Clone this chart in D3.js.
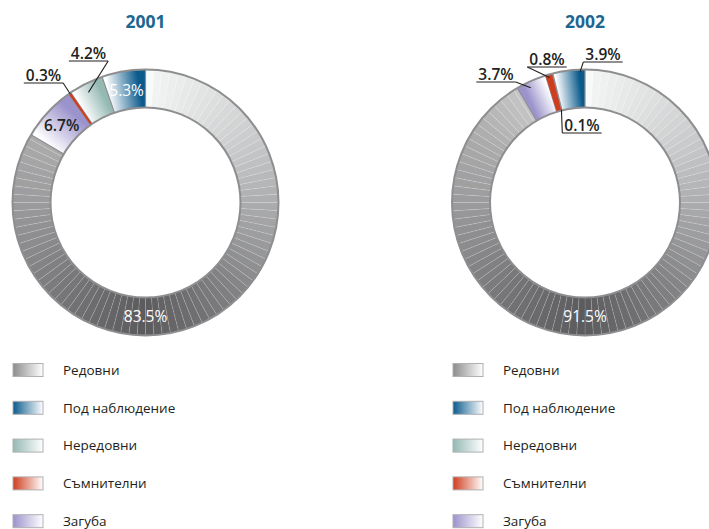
<!DOCTYPE html>
<html>
<head>
<meta charset="utf-8">
<script src="https://cdn.jsdelivr.net/npm/d3@7"></script>
<style>
  body { margin: 0; background: #fff; }
  svg { display: block; font-family: "Open Sans", "Noto Sans", sans-serif; }
  .year { font-size: 17.5px; font-weight: 700; fill: #1d6690; }
  .pct { font-size: 15.5px; font-weight: 600; fill: #231f20; }
  .pct.light { fill: #fff; font-weight: 500; }
  .legend text { font-size: 13.5px; fill: #231f20; }
</style>
</head>
<body>
<svg id="chart" width="709" height="529"></svg>
<script>
const years = ["2001", "2002"]
const categories = ["Редовни", "Под наблюдение", "Нередовни", "Съмнителни", "Загуба"]
const values2001 = [83.5, 5.3, 4.2, 0.3, 6.7]
const values2002 = [91.5, 3.9, 0.1, 0.8, 3.7]
const colors = ["#8c8c8e", "#0b5a8c", "#94b9b3", "#cf3d1e", "#9b93cc"]
// clockwise order of the slices from 12 o'clock
const ringOrder = [0, 4, 3, 2, 1]

// layout of the percent labels (not data)
const labelLayout = {
    "2001": [
        { cat: 0, inside: true, light: true, angle: Math.PI },
        { cat: 4, inside: true },
        { cat: 1, inside: true, light: true },
        { cat: 2, dx: -57, dy: -144, side: "right", t: 0.45, r: 124 },
        { cat: 3, dx: -102, dy: -122, side: "right", t: 0.5, r: 132 }
    ],
    "2002": [
        { cat: 0, inside: true, light: true, angle: Math.PI },
        { cat: 4, dx: -89, dy: -123, side: "right", t: 0.4, r: 127 },
        { cat: 3, dx: -38, dy: -138, side: "left", t: 0.5, r: 130 },
        { cat: 1, dx: 18, dy: -143, side: "left", t: 0.85, r: 131 },
        { cat: 2, dx: -3, dy: -72, side: "left", t: 0.5, r: 96 }
    ]
}
// slices whose gradient runs the other way round
const reversed = { "2001": [], "2002": [4] }

const svg = d3.select("#chart")
const defs = svg.append("defs")
const outerR = 133, innerR = 95
const centers = [[145.5, 202.5], [585, 202.5]]
const legendX = [13, 453]

const pie = d3.pie().sort(null).value(d => d.value)
const arc = d3.arc().innerRadius(innerR).outerRadius(outerR)

// gray tone of the "Редовни" ring by angle (degrees)
const grayScale = d3.scaleLinear()
    .domain([0, 4, 30, 60, 90, 135, 180, 225, 270, 300, 330, 360])
    .range(["#ffffff", "#f2f3f3", "#e0e1e1", "#c9cacb", "#acadae", "#828284", "#5b5b5d", "#78787a", "#9b9b9d", "#aaaaab", "#c6c6c7", "#e0e0e0"])

const pt = (a, r) => [r * Math.sin(a), -r * Math.cos(a)]

function drawYear (yi) {
    const year = years[yi]
    const values = yi === 0 ? values2001 : values2002
    const [cx, cy] = centers[yi]
    const data = ringOrder.map(i => ({ cat: i, value: values[i] }))
    const arcs = pie(data)
    const byCat = {}
    arcs.forEach(a => byCat[a.data.cat] = a)

    svg.append("text").attr("class", "year")
        .attr("x", cx).attr("y", 28)
        .attr("text-anchor", "middle").text(year)

    const g = svg.append("g").attr("transform", `translate(${cx},${cy})`)

    arcs.forEach(a => {
        const cat = a.data.cat
        if (cat === 0) {
            // many thin wedges, shaded by angle
            const step = Math.PI / 50
            const starts = d3.range(a.startAngle, a.endAngle, step)
            g.append("g").selectAll("path")
                .data(starts).enter().append("path")
                .attr("d", s => arc({ startAngle: s, endAngle: Math.min(s + step, a.endAngle) }))
                .attr("fill", s => grayScale((s + step / 2) * 180 / Math.PI))
                .attr("stroke", "rgba(255,255,255,0.22)")
                .attr("stroke-width", 0.6)
        } else if (cat !== 3) {
            const id = `grad-${year}-${cat}`
            const mid = (innerR + outerR) / 2
            let p0 = pt(a.startAngle, mid), p1 = pt(a.endAngle, mid)
            if (reversed[year].includes(cat)) [p0, p1] = [p1, p0]
            const grad = defs.append("linearGradient").attr("id", id)
                .attr("gradientUnits", "userSpaceOnUse")
                .attr("x1", p0[0]).attr("y1", p0[1]).attr("x2", p1[0]).attr("y2", p1[1])
            grad.append("stop").attr("offset", 0).attr("stop-color", "#ffffff")
            grad.append("stop").attr("offset", 0.85).attr("stop-color", colors[cat])
            g.append("path").attr("d", arc(a)).attr("fill", `url(#${id})`)
        }
    })

    // slice boundaries
    g.selectAll(".sep").data(arcs).enter().append("line")
        .attr("x1", d => pt(d.startAngle, innerR)[0]).attr("y1", d => pt(d.startAngle, innerR)[1])
        .attr("x2", d => pt(d.startAngle, outerR)[0]).attr("y2", d => pt(d.startAngle, outerR)[1])
        .attr("stroke", "#8e8e90").attr("stroke-width", 1.2)

    // thin red slice drawn over the boundaries so it stays visible
    g.append("path").attr("d", arc(byCat[3])).attr("fill", colors[3])

    g.selectAll(".rim").data([innerR, outerR]).enter().append("circle")
        .attr("r", d => d).attr("fill", "none")
        .attr("stroke", "#8e8e90").attr("stroke-width", 2)

    // labels
    labelLayout[year].forEach(l => {
        const a = byCat[l.cat]
        const txt = d3.format(".1f")(a.data.value) + "%"
        if (l.inside) {
            const ang = l.angle !== undefined ? l.angle : (a.startAngle + a.endAngle) / 2
            const [x, y] = pt(ang, (innerR + outerR) / 2)
            g.append("text").attr("class", "pct" + (l.light ? " light" : ""))
                .attr("x", x).attr("y", y).attr("dy", "0.36em")
                .attr("text-anchor", "middle").text(txt)
            return
        }
        const t = g.append("text").attr("class", "pct")
            .attr("x", l.dx).attr("y", l.dy)
            .attr("text-anchor", "middle").text(txt)
        const w = t.node().getComputedTextLength()
        const ux0 = l.dx - w / 2 - 2, ux1 = l.dx + w / 2 + 2, uy = l.dy + 2.5
        g.append("line").attr("x1", ux0).attr("x2", ux1).attr("y1", uy).attr("y2", uy)
            .attr("stroke", "#231f20").attr("stroke-width", 1.2)
        const ang = a.startAngle + (a.endAngle - a.startAngle) * l.t
        const [ex, ey] = pt(ang, l.r)
        g.append("line")
            .attr("x1", l.side === "left" ? ux0 : ux1).attr("y1", uy)
            .attr("x2", ex).attr("y2", ey)
            .attr("stroke", "#231f20").attr("stroke-width", 1.1)
    })

    // legend
    const legend = svg.append("g").attr("class", "legend")
    categories.forEach((c, i) => {
        const y = 370 + i * 37.8
        const id = `lg-${year}-${i}`
        const grad = defs.append("linearGradient").attr("id", id)
        grad.append("stop").attr("offset", 0).attr("stop-color", colors[i])
        grad.append("stop").attr("offset", 1).attr("stop-color", "#ffffff")
        legend.append("rect")
            .attr("x", legendX[yi]).attr("y", y - 6.5)
            .attr("width", 30).attr("height", 13)
            .attr("fill", `url(#${id})`)
            .attr("stroke", "#b0b0b2").attr("stroke-width", 1)
        legend.append("text")
            .attr("x", legendX[yi] + 50).attr("y", y).attr("dy", "0.35em")
            .text(c)
    })
}

years.forEach((y, i) => drawYear(i))
</script>
</body>
</html>
